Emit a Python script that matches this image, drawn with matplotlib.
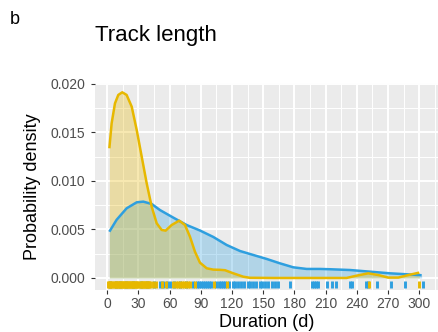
import numpy as np
import matplotlib
matplotlib.use('Agg')
import matplotlib.pyplot as plt
from matplotlib.ticker import MultipleLocator
import matplotlib.transforms as mtransforms

plt.rcParams['font.family'] = ['Liberation Sans', 'DejaVu Sans']

# density curve of the long tracks (blue)
long_x = [2, 9, 18.6, 28.3, 34.6, 42.7, 50.7, 63.5, 76.3, 89, 101.9, 114.8, 127.6,
          140.4, 153.3, 166, 178.8, 191.7, 204.5, 214, 233.4, 252.6, 271.8, 287.9, 302.3]
long_y = [0.00477, 0.0060, 0.00718, 0.0078, 0.00787, 0.00763, 0.0070, 0.00622, 0.00546,
          0.0049, 0.00423, 0.0034, 0.00278, 0.00237, 0.00196, 0.00151, 0.0011, 0.00093,
          0.00093, 0.0009, 0.00082, 0.00065, 0.00048, 0.00038, 0.00028]

# density curve of the short tracks (yellow)
short_x = [2, 4.2, 7.4, 10.6, 14.4, 18.6, 23.5, 28.3, 33.1, 37.9, 42.7, 47.5, 52.3,
           56.1, 61.9, 69.2, 74.7, 79.5, 84.3, 89.1, 95.6, 101.9, 108.4, 113.2, 121.2,
           130.8, 137, 160, 195, 230, 239.8, 251, 260.6, 270.2, 279.8, 291, 300]
short_y = [0.01337, 0.01595, 0.0180, 0.01887, 0.01914, 0.01887, 0.01766, 0.01526,
           0.01251, 0.00976, 0.00735, 0.00564, 0.00495, 0.00488, 0.00546, 0.00591,
           0.00546, 0.00426, 0.00271, 0.00158, 0.0010, 0.00086, 0.00084, 0.0008,
           0.00048, 0.00013, 0.00002, 0.0, 0.0, 0.0, 0.00024, 0.00048, 0.0003,
           0.00004, 0.00004, 0.00034, 0.00055]

# individual track durations for the rug
long_days = [3, 8, 12, 18, 25, 32, 38, 45, 51, 54, 57, 60, 64, 70, 76, 82, 86, 88, 90,
             92, 94, 96, 98, 100, 105, 107, 109, 111, 113, 117, 121, 123, 126, 129, 131,
             135, 137, 140, 143, 147, 149, 152, 155, 158, 161, 164, 176, 197, 199, 201,
             203, 211, 216, 220, 233, 235, 249, 251, 259, 273, 286, 304]
short_days = list(range(1, 42)) + [44, 47, 53, 56, 63, 66, 68, 70, 72, 74, 76, 78, 80,
                                   84, 103, 115, 252, 300]

x_ticks = list(range(0, 301, 30))
y_ticks = [0.000, 0.005, 0.010, 0.015, 0.020]

blue = '#2E9FDF'
yellow = '#E7B800'

fig = plt.figure(figsize=(4.38, 3.32), dpi=100)
ax = fig.add_axes([95 / 438, 1 - 290 / 332, 343 / 438, 207 / 332])
ax.set_facecolor('#EBEBEB')
for s in ax.spines.values():
    s.set_visible(False)

ax.set_xlim(-11.8, 318)
ax.set_ylim(-0.00124, 0.0201)
ax.set_xticks(x_ticks)
ax.set_yticks(y_ticks)
ax.xaxis.set_minor_locator(MultipleLocator(15))
ax.yaxis.set_minor_locator(MultipleLocator(0.0025))
ax.grid(which='major', color='white', linewidth=1.4)
ax.grid(which='minor', color='white', linewidth=0.7)
ax.set_axisbelow(True)
ax.tick_params(which='minor', length=0)
ax.tick_params(which='major', length=3, width=0.8, color='#333333',
               labelsize=10, labelcolor='#4D4D4D', pad=2)
ax.tick_params(axis='y', pad=4)
ax.set_yticklabels(['%.3f' % v for v in y_ticks])

# densities: blue first, yellow on top
for xs, ys, c in [(long_x, long_y, blue), (short_x, short_y, yellow)]:
    ax.fill_between(xs, 0, ys, color=c, alpha=0.3, linewidth=0, zorder=2)
    ax.plot(xs, ys, color=c, linewidth=1.8, zorder=3, solid_capstyle='butt')

# rug at the bottom of the panel
trans = mtransforms.blended_transform_factory(ax.transData, ax.transAxes)
ax.vlines(long_days, 0.01, 0.045, transform=trans, color=blue, linewidth=2.1, zorder=4)
ax.vlines(short_days, 0.01, 0.045, transform=trans, color=yellow, linewidth=2.1, zorder=5)

ax.set_xlabel('Duration (d)', fontsize=13, labelpad=2)
ax.set_ylabel('Probability density', fontsize=13, labelpad=7)

fig.text(95 / 438, 1 - 40.7 / 332, 'Track length', fontsize=16, ha='left', va='baseline')
fig.text(10 / 438, 1 - 23.5 / 332, 'b', fontsize=13, ha='left', va='baseline')

fig.savefig('out.png', dpi=100)
